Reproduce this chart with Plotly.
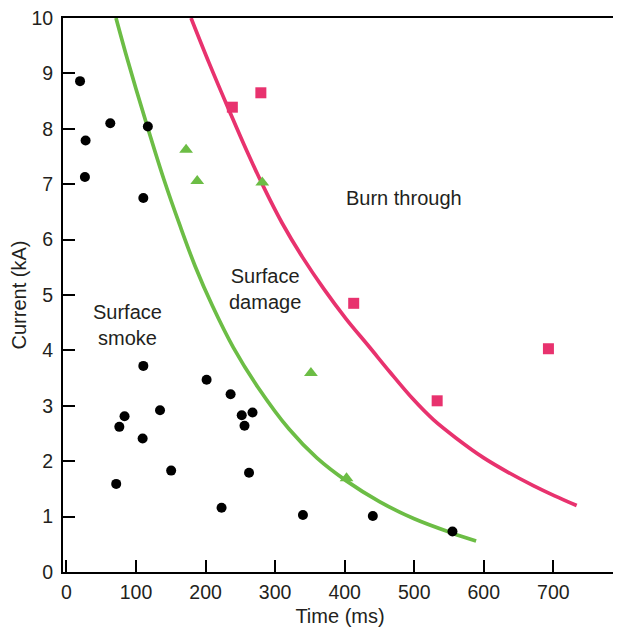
import plotly.graph_objects as go

# Surface smoke (black circles)
smoke_t = [19.5, 27.5, 26.5, 63, 117, 110.5, 110.5, 76, 83.5, 134.5, 109.5, 71.5, 150.5,
           201.5, 236, 252, 267.5, 256, 262.5, 223, 340, 440.5, 555]
smoke_i = [8.86, 7.79, 7.13, 8.10, 8.04, 6.75, 3.72, 2.62, 2.81, 2.92, 2.41, 1.59, 1.83,
           3.47, 3.21, 2.83, 2.88, 2.64, 1.79, 1.16, 1.03, 1.01, 0.73]

# Surface damage (green triangles)
damage_t = [172, 188, 281.5, 351.5, 402.7]
damage_i = [7.62, 7.06, 7.03, 3.59, 1.69]

# Burn through (pink squares)
burn_t = [238.5, 279.5, 413, 533, 693]
burn_i = [8.39, 8.65, 4.85, 3.09, 4.03]

# Boundary curves
green_curve_t = [71.2, 85, 100, 118, 140, 163, 185, 210, 240, 275, 320, 360, 403, 450, 500, 555, 589]
green_curve_i = [10.0, 9.37, 8.72, 7.97, 7.09, 6.26, 5.52, 4.80, 4.05, 3.34, 2.58, 2.06, 1.64, 1.27, 0.96, 0.70, 0.56]

pink_curve_t = [179.1, 205, 235, 260, 285, 310, 340, 370, 402, 435, 465, 497.6, 527.5, 560, 600, 635, 671.2, 702, 733.6]
pink_curve_i = [10.0, 9.19, 8.30, 7.58, 6.91, 6.30, 5.67, 5.11, 4.57, 4.07, 3.61, 3.13, 2.75, 2.42, 2.06, 1.80, 1.56, 1.375, 1.20]

x_ticks = [0, 100, 200, 300, 400, 500, 600, 700]
y_ticks = list(range(0, 11))

GREEN = "#6cbd45"
PINK = "#e8326e"
TEXT = "#231f20"
FONT = "Liberation Sans, Arial, Helvetica, sans-serif"

fig = go.Figure()
fig.add_trace(go.Scatter(x=green_curve_t, y=green_curve_i, mode="lines",
                         line=dict(color=GREEN, width=3.7, shape="spline", smoothing=1.0),
                         showlegend=False, hoverinfo="skip"))
fig.add_trace(go.Scatter(x=pink_curve_t, y=pink_curve_i, mode="lines",
                         line=dict(color=PINK, width=3.7, shape="spline", smoothing=1.0),
                         showlegend=False, hoverinfo="skip"))
fig.add_trace(go.Scatter(x=smoke_t, y=smoke_i, mode="markers",
                         marker=dict(color="black", size=10, symbol="circle"),
                         showlegend=False))
fig.add_trace(go.Scatter(x=damage_t, y=damage_i, mode="markers",
                         marker=dict(color=GREEN, size=12, symbol="triangle-up"),
                         showlegend=False))
fig.add_trace(go.Scatter(x=burn_t, y=burn_i, mode="markers",
                         marker=dict(color=PINK, size=11, symbol="square"),
                         showlegend=False))

annots = [
    dict(x=88, y=4.46, text="Surface<br>smoke"),
    dict(x=285, y=5.11, text="Surface<br>damage"),
    dict(x=486, y=6.76, text="Burn through"),
]
for a in annots:
    fig.add_annotation(x=a["x"], y=a["y"], text=a["text"], showarrow=False,
                       font=dict(family=FONT, size=20, color=TEXT))

# page body has an 8px margin, so the figure is sized/offset to compensate
fig.update_layout(
    width=613, height=621,
    margin=dict(l=55, r=4, t=10, b=57),
    paper_bgcolor="white", plot_bgcolor="white",
    font=dict(family=FONT, size=19.5, color=TEXT),
)
fig.update_xaxes(
    range=[-5, 791.6], tickvals=x_ticks, ticks="inside", ticklen=12, tickwidth=2,
    tickcolor="black", showline=True, linecolor="black", linewidth=2, mirror=True,
    showgrid=False, zeroline=False, automargin=False, ticklabeloverflow="allow",
    title=dict(text="Time (ms)", font=dict(family=FONT, size=20, color=TEXT), standoff=7),
    tickfont=dict(family=FONT, size=19.5, color=TEXT), ticklabelstandoff=2,
)
fig.update_yaxes(
    range=[0, 10], tickvals=y_ticks, ticks="inside", ticklen=12, tickwidth=2,
    tickcolor="black", showline=True, linecolor="black", linewidth=2, mirror=True,
    showgrid=False, zeroline=False, automargin=False, ticklabeloverflow="allow",
    title=dict(text="Current (kA)", font=dict(family=FONT, size=20, color=TEXT), standoff=1),
    tickfont=dict(family=FONT, size=19.5, color=TEXT), ticklabelstandoff=4,
)

fig.write_html("out.html")
